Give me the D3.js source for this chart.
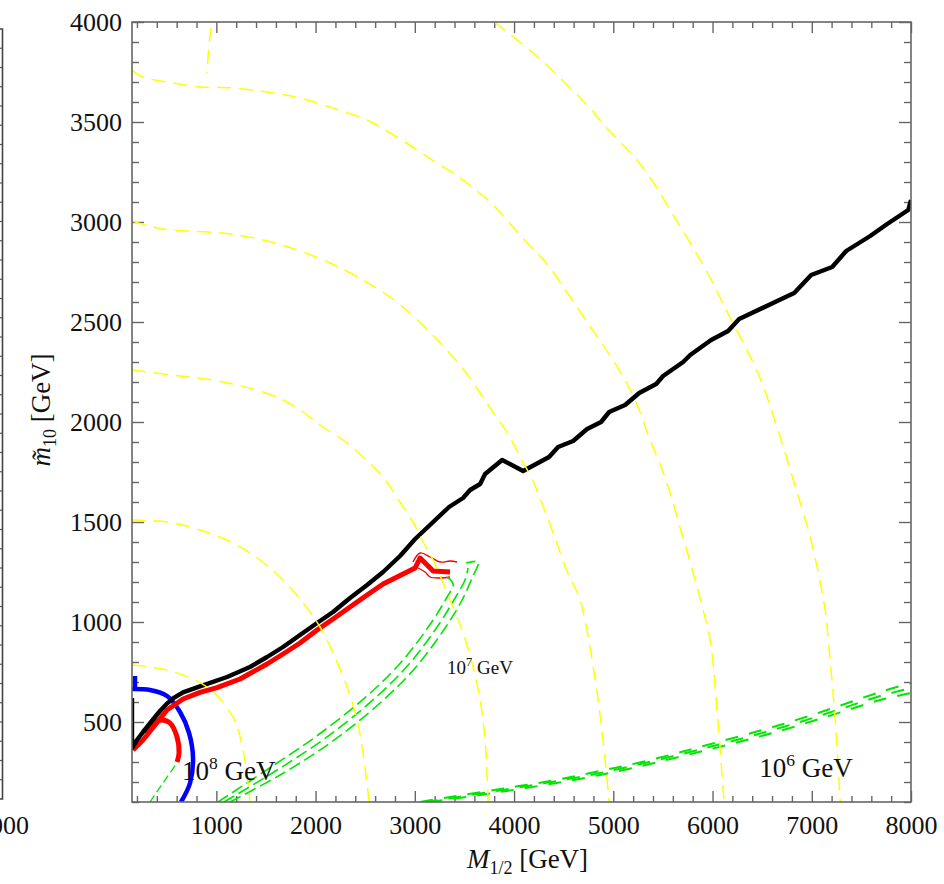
<!DOCTYPE html>
<html>
<head>
<meta charset="utf-8">
<script src="https://cdn.jsdelivr.net/npm/d3@7"></script>
<style>
  body { margin: 0; background: #fff; }
  svg { display: block; }
  text { font-family: "Liberation Serif", "Times New Roman", serif; fill: #111; }
</style>
</head>
<body>
<svg id="chart" width="944" height="884"></svg>
<script>
// ---- data (GeV): [M_1/2, m10] ----
const xMajor = [1000, 2000, 3000, 4000, 5000, 6000, 7000, 8000];
const yMajor = [500, 1000, 1500, 2000, 2500, 3000, 3500, 4000];

const blackLine = [[150,620],[150,370],[200,410],[261,450],[350,505],[432,555],[503,592],[563,618],[664,648],
  [835,678],[1108,725],[1339,775],[1511,825],
  [1672,875],[1843,935],[2015,995],[2176,1050],[2347,1120],[2519,1185],[2680,1250],[2851,1330],[3003,1415],
  [3174,1495],[3345,1575],[3486,1620],[3557,1660],[3658,1690],[3708,1740],[3880,1810],[4091,1755],[4353,1825],
  [4444,1875],[4595,1905],[4736,1965],[4877,2000],[4958,2050],[5119,2085],[5261,2145],[5432,2190],[5502,2230],
  [5603,2265],[5704,2300],[5775,2335],[5986,2410],[6157,2455],[6268,2515],[6652,2605],[6823,2645],[6994,2735],
  [7206,2775],[7347,2855],[7589,2930],[7760,2990],[7972,3060],[8000,3110]];

const redLine = [[160,360],[261,410],[503,560],[664,615],[835,648],[1007,672],[1239,715],[1511,790],[1672,840],
  [1843,895],[2015,960],[2176,1015],[2347,1075],[2519,1135],[2680,1190],[2781,1215],[2922,1250],[3003,1270],
  [3053,1320],[3124,1285],[3184,1255],[3355,1250]];
const redThinUpper = [[2982,1300],[3053,1345],[3154,1325],[3255,1300],[3355,1305],[3426,1300]];
const redThinLower = [[3033,1270],[3103,1250],[3154,1225],[3255,1220],[3355,1225]];
const redBump = [[604,300],[624,345],[604,425],[533,495],[452,510],[382,500],[311,470],[281,445]];

const blueArc = [[150,665],[331,660],[503,630],[634,550],[725,445],[765,320],[735,195],[644,100]];
const blueStub = [[180,730],[180,660]];

const yellowA = [[3800,4000],[3930,3950],[4130,3870],[4330,3785],[4525,3690],[4736,3585],[4908,3485],[5079,3395],
  [5261,3295],[5432,3175],[5603,3035],[5775,2895],[5956,2740],[6127,2570],[6470,2230],[6652,1970],[6823,1695],
  [6994,1405],[7135,1060],[7166,910],[7236,510],[7287,100]];
const yellowB = [[150,3760],[261,3725],[503,3700],[835,3675],[1168,3670],[1511,3650],[1843,3620],[2176,3570],
  [2519,3510],[2650,3475],[2993,3370],[3204,3300],[3416,3235],[3628,3155],[3799,3080],[3970,2985],[4142,2890],
  [4323,2795],[4525,2655],[4736,2500],[5009,2300],[5150,2180],[5261,2060],[5362,1920],[5462,1800],[5573,1645],
  [5674,1470],[5775,1300],[5886,1095],[5976,910],[6037,610],[6107,160],[6117,100]];
const yellowC = [[150,3005],[462,2965],[906,2950],[1138,2940],[1470,2910],[1813,2860],[2146,2795],[2478,2710],
  [2791,2610],[2993,2525],[3275,2385],[3486,2265],[3658,2145],[3799,2040],[3940,1940],[4071,1815],[4182,1715],
  [4323,1540],[4424,1405],[4525,1265],[4615,1170],[4666,1110],[4736,955],[4847,610],[4918,310],[4958,100]];
const yellowD = [[150,2260],[634,2230],[966,2210],[1208,2185],[1470,2150],[1672,2110],[1874,2050],[2075,1975],
  [2277,1910],[2478,1825],[2680,1725],[2882,1575],[2982,1500],[3073,1410],[3184,1310],[3355,1110],[3486,945],
  [3587,775],[3658,610],[3708,410],[3738,100]];
const yellowE = [[150,1510],[503,1500],[835,1460],[1168,1395],[1440,1310],[1672,1210],[1874,1095],[2045,975],
  [2176,845],[2317,675],[2418,510],[2478,345],[2529,145],[2539,100]];
const yellowF = [[150,785],[503,760],[906,675],[1168,525],[1269,360],[1319,195],[1339,100]];
const yellowG = [[946,3970],[926,3885],[906,3745]];

const greenThin = [[331,100],[462,195],[604,295]];
const greenMid1 = [[1138,100],[1642,235],[2146,395],[2650,595],[3003,770],[3305,970],[3476,1110],[3577,1220],[3638,1300],[3517,1295]];
const greenMid2 = [[1077,100],[1581,250],[2086,415],[2589,615],[2942,790],[3245,990],[3406,1120],[3506,1210],[3537,1270]];
const greenMid3 = [[1017,100],[1521,265],[2025,435],[2529,635],[2882,810],[3184,1010],[3325,1125],[3386,1185],[3335,1220],[3255,1225]];
const greenLow1 = [[3053,100],[3355,125],[3859,165],[4363,205],[4867,255],[5372,310],[5946,385],[6712,490],[7216,570],[7690,650],[8000,695]];
const greenLow2 = [[3100,100],[3859,158],[4867,245],[5946,372],[6712,475],[7216,553],[7690,630],[8000,670]];
const greenLow3 = [[3150,100],[3859,150],[4867,235],[5946,360],[6712,460],[7216,537],[7690,610],[8000,645]];

const labels = [
  { x: 654, y: 210, base: "10", exp: "8", size: 27 },
  { x: 3325, y: 740, base: "10", exp: "7", size: 19 },
  { x: 6470, y: 225, base: "10", exp: "6", size: 27 }
];

// ---- layout ----
const svg = d3.select("#chart");
const W = +svg.attr("width"), H = +svg.attr("height");
const margin = { top: 22, right: 33, bottom: 82, left: 132 };
const w = W - margin.left - margin.right;
const h = H - margin.top - margin.bottom;

const x = d3.scaleLinear().domain([150, 8000]).range([0, w]);
const y = d3.scaleLinear().domain([100, 4000]).range([h, 0]);

const g = svg.append("g").attr("transform", `translate(${margin.left},${margin.top})`);

svg.append("defs").append("clipPath").attr("id", "plotclip")
  .append("rect").attr("width", w).attr("height", h);

// partial neighbouring panel on the far left
const side = svg.append("g");
side.append("path").attr("d", `M-5,29H2.5V799H-5`).attr("fill", "none").attr("stroke", "#444").attr("stroke-width", 1.6);
const sideY = d3.scaleLinear().domain([0, 40]).range([799, 29]);
side.selectAll("line.st").data(d3.range(1, 40)).enter().append("line")
  .attr("x1", -4).attr("x2", 2.5).attr("y1", d => sideY(d)).attr("y2", d => sideY(d))
  .attr("stroke", "#555").attr("stroke-width", 1.2);
side.append("text").attr("x", 29).attr("y", 834).attr("text-anchor", "end")
  .attr("font-size", 26).text("8000");

// ---- axes (Mathematica-style inward frame ticks) ----
const xMinor = d3.range(200, 8001, 200).filter(v => v % 1000 !== 0);
const yMinor = d3.range(100, 4001, 100).filter(v => v % 500 !== 0);

function styleAxis(sel) {
  sel.select(".domain").remove();
  sel.selectAll(".tick line").attr("stroke", "#666").attr("stroke-width", 1.4);
  sel.selectAll("text").attr("font-size", 26).attr("fill", "#111")
    .attr("font-family", '"Liberation Serif", "Times New Roman", serif');
}

g.append("g").attr("transform", `translate(0,${h})`)
  .call(d3.axisBottom(x).tickValues(xMajor).tickSize(-11).tickPadding(14).tickFormat(d3.format("d")))
  .call(styleAxis);
g.append("g").attr("transform", `translate(0,${h})`)
  .call(d3.axisBottom(x).tickValues(xMinor).tickSize(-6).tickFormat(""))
  .call(styleAxis);
g.append("g")
  .call(d3.axisTop(x).tickValues(xMajor).tickSize(-11).tickFormat(""))
  .call(styleAxis);
g.append("g")
  .call(d3.axisTop(x).tickValues(xMinor).tickSize(-6).tickFormat(""))
  .call(styleAxis);

g.append("g")
  .call(d3.axisLeft(y).tickValues(yMajor).tickSize(-12).tickPadding(10).tickFormat(d3.format("d")))
  .call(styleAxis);
g.append("g")
  .call(d3.axisLeft(y).tickValues(yMinor).tickSize(-7).tickFormat(""))
  .call(styleAxis);
g.append("g").attr("transform", `translate(${w},0)`)
  .call(d3.axisRight(y).tickValues(yMajor).tickSize(-12).tickFormat(""))
  .call(styleAxis);
g.append("g").attr("transform", `translate(${w},0)`)
  .call(d3.axisRight(y).tickValues(yMinor).tickSize(-7).tickFormat(""))
  .call(styleAxis);

// ---- curves ----
const plot = g.append("g").attr("clip-path", "url(#plotclip)");
const line = d3.line().x(d => x(d[0])).y(d => y(d[1]));
const smooth = d3.line().x(d => x(d[0])).y(d => y(d[1])).curve(d3.curveCatmullRom.alpha(0.5));

function draw(data, gen, color, width, dash) {
  plot.append("path").datum(data)
    .attr("d", gen)
    .attr("fill", "none")
    .attr("stroke", color)
    .attr("stroke-width", width)
    .attr("stroke-linejoin", "round")
    .attr("stroke-dasharray", dash || null);
}

draw(blueArc, smooth, "#0000ff", 4.5);
draw(blueStub, line, "#0000ff", 4.5);

draw(redBump, smooth, "#ff0000", 5);
draw(redLine, line, "#ff0000", 5);
draw(redThinUpper, smooth, "#ee0000", 1.3);
draw(redThinLower, smooth, "#ee0000", 1.3);

draw(blackLine, line, "#000", 4.4);

draw(greenThin, smooth, "#00e600", 1.3, "8,4");
[greenMid1, greenMid2, greenMid3].forEach(d => draw(d, smooth, "#00e600", 1.6, "12,5"));
[greenLow1, greenLow2, greenLow3].forEach(d => draw(d, smooth, "#00e600", 2, "13,11"));

[yellowA, yellowB, yellowC, yellowD, yellowE, yellowF, yellowG]
  .forEach(d => draw(d, smooth, "#ffff00", 1.5, "14,8"));

// frame
g.append("rect").attr("width", w).attr("height", h)
  .attr("fill", "none").attr("stroke", "#666").attr("stroke-width", 1.6);

// ---- energy labels ----
labels.forEach(l => {
  const t = g.append("text").attr("x", x(l.x)).attr("y", y(l.y)).attr("font-size", l.size);
  t.append("tspan").text(l.base);
  t.append("tspan").attr("font-size", l.size * 0.65).attr("dy", -l.size * 0.42).text(l.exp);
  t.append("tspan").attr("dy", l.size * 0.42).text(" GeV");
});

// ---- axis titles ----
const xt = svg.append("text").attr("x", margin.left + w / 2 + 6).attr("y", 868)
  .attr("text-anchor", "middle").attr("font-size", 27);
xt.append("tspan").attr("font-style", "italic").text("M");
xt.append("tspan").attr("font-size", 18).attr("dy", 6).text("1/2");
xt.append("tspan").attr("dy", -6).text(" [GeV]");

const yt = svg.append("text").attr("transform", `translate(50,${margin.top + h / 2 - 2}) rotate(-90)`)
  .attr("text-anchor", "middle").attr("font-size", 27);
yt.append("tspan").attr("font-style", "italic").text("m\u0303");
yt.append("tspan").attr("font-size", 18).attr("dy", 6).text("10");
yt.append("tspan").attr("dy", -6).text(" [GeV]");
</script>
</body>
</html>
